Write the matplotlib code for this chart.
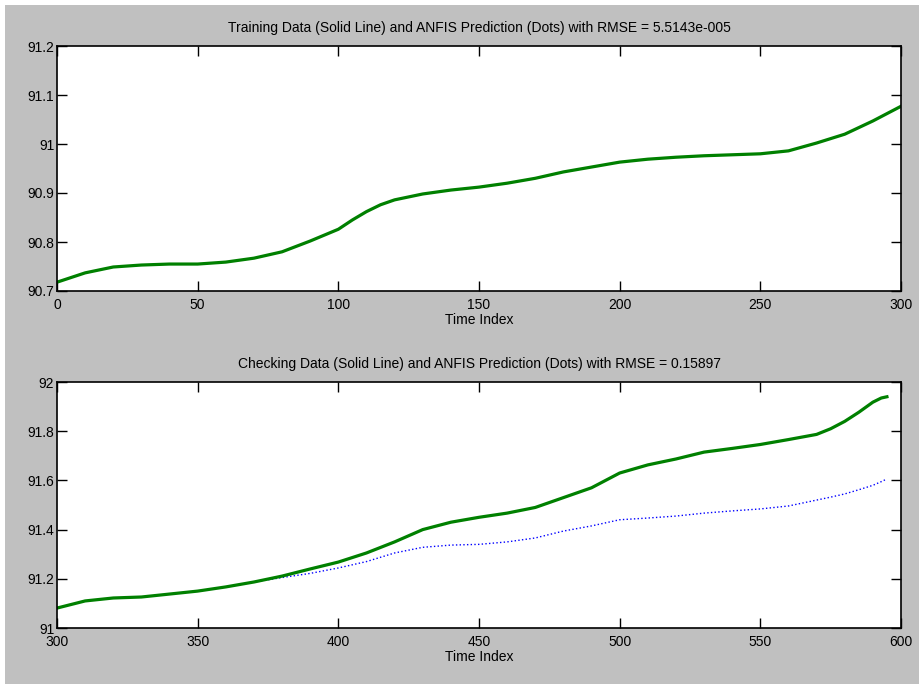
import matplotlib
matplotlib.use("Agg")
import matplotlib.pyplot as plt
from matplotlib.patches import Rectangle

# training data (time index 0..300)
t_train = [0, 10, 20, 30, 40, 50, 60, 70, 80, 90, 100, 105, 110, 115, 120, 130, 140,
           150, 160, 170, 180, 190, 200, 210, 220, 230, 240, 250, 260, 270, 280,
           290, 300]
y_train = [90.718, 90.737, 90.749, 90.753, 90.755, 90.755, 90.759, 90.767, 90.780,
           90.802, 90.826, 90.845, 90.862, 90.876, 90.886, 90.898, 90.906, 90.912,
           90.920, 90.930, 90.943, 90.953, 90.963, 90.969, 90.973, 90.976, 90.978,
           90.980, 90.986, 91.002, 91.020, 91.047, 91.077]
rmse_train = "5.5143e-005"

# checking data (time index 300..595)
t_check = [300, 310, 320, 330, 340, 350, 360, 370, 380, 390, 400, 410, 420, 430,
           440, 450, 460, 470, 480, 490, 500, 510, 520, 530, 540, 550, 560, 570,
           575, 580, 585, 590, 593, 595]
y_check = [91.081, 91.110, 91.122, 91.126, 91.138, 91.150, 91.167, 91.187, 91.211,
           91.240, 91.268, 91.305, 91.350, 91.400, 91.430, 91.450, 91.467, 91.490,
           91.530, 91.570, 91.630, 91.663, 91.687, 91.715, 91.730, 91.746, 91.766,
           91.787, 91.810, 91.840, 91.877, 91.918, 91.935, 91.940]
p_check = [91.081, 91.110, 91.122, 91.126, 91.138, 91.150, 91.167, 91.187, 91.205,
           91.222, 91.244, 91.270, 91.305, 91.328, 91.337, 91.340, 91.350, 91.366,
           91.394, 91.415, 91.440, 91.447, 91.455, 91.467, 91.476, 91.484, 91.496,
           91.520, 91.532, 91.545, 91.562, 91.580, 91.595, 91.606]
rmse_check = "0.15897"

plt.rcParams['font.family'] = ['Liberation Sans', 'DejaVu Sans']
plt.rcParams['font.size'] = 10

W, H = 919, 684
fig = plt.figure(figsize=(W / 100, H / 100), dpi=100, facecolor='white')
fig.patches.append(Rectangle((5 / W, 0), 1, 1 - 5 / H, transform=fig.transFigure,
                             facecolor='#c0c0c0', edgecolor='none', zorder=-10))


def style(ax):
    ax.set_facecolor('white')
    for s in ax.spines.values():
        s.set_linewidth(1.2)
    ax.tick_params(direction='in', length=7, width=1, top=True, right=True,
                   labelsize=10, pad=2)
    ax.tick_params(axis='x', pad=5)


ax1 = fig.add_axes([57 / W, 1 - 291 / H, 844 / W, 245 / H])
ax1.plot(t_train, y_train, ':', color='blue', linewidth=1)
ax1.plot(t_train, y_train, '-', color='green', linewidth=2.3)
ax1.set_xlim(0, 300)
ax1.set_ylim(90.7, 91.2)
ax1.set_xticks([0, 50, 100, 150, 200, 250, 300])
ax1.set_yticks([90.7, 90.8, 90.9, 91, 91.1, 91.2])
ax1.set_yticklabels(['90.7', '90.8', '90.9', '91', '91.1', '91.2'])
ax1.set_xlabel('Time Index', labelpad=1)
ax1.set_title('Training Data (Solid Line) and ANFIS Prediction (Dots) with RMSE = '
              + rmse_train, fontsize=10, pad=10)
style(ax1)

ax2 = fig.add_axes([57 / W, 1 - 628 / H, 844 / W, 246 / H])
ax2.plot(t_check, p_check, ':', color='blue', linewidth=1)
ax2.plot(t_check, y_check, '-', color='green', linewidth=2.3)
ax2.set_xlim(300, 600)
ax2.set_ylim(91, 92)
ax2.set_xticks([300, 350, 400, 450, 500, 550, 600])
ax2.set_yticks([91, 91.2, 91.4, 91.6, 91.8, 92])
ax2.set_yticklabels(['91', '91.2', '91.4', '91.6', '91.8', '92'])
ax2.set_xlabel('Time Index', labelpad=1)
ax2.set_title('Checking Data (Solid Line) and ANFIS Prediction (Dots) with RMSE = '
              + rmse_check, fontsize=10, pad=10)
style(ax2)

fig.savefig('out.png', dpi=100, facecolor=fig.get_facecolor())
